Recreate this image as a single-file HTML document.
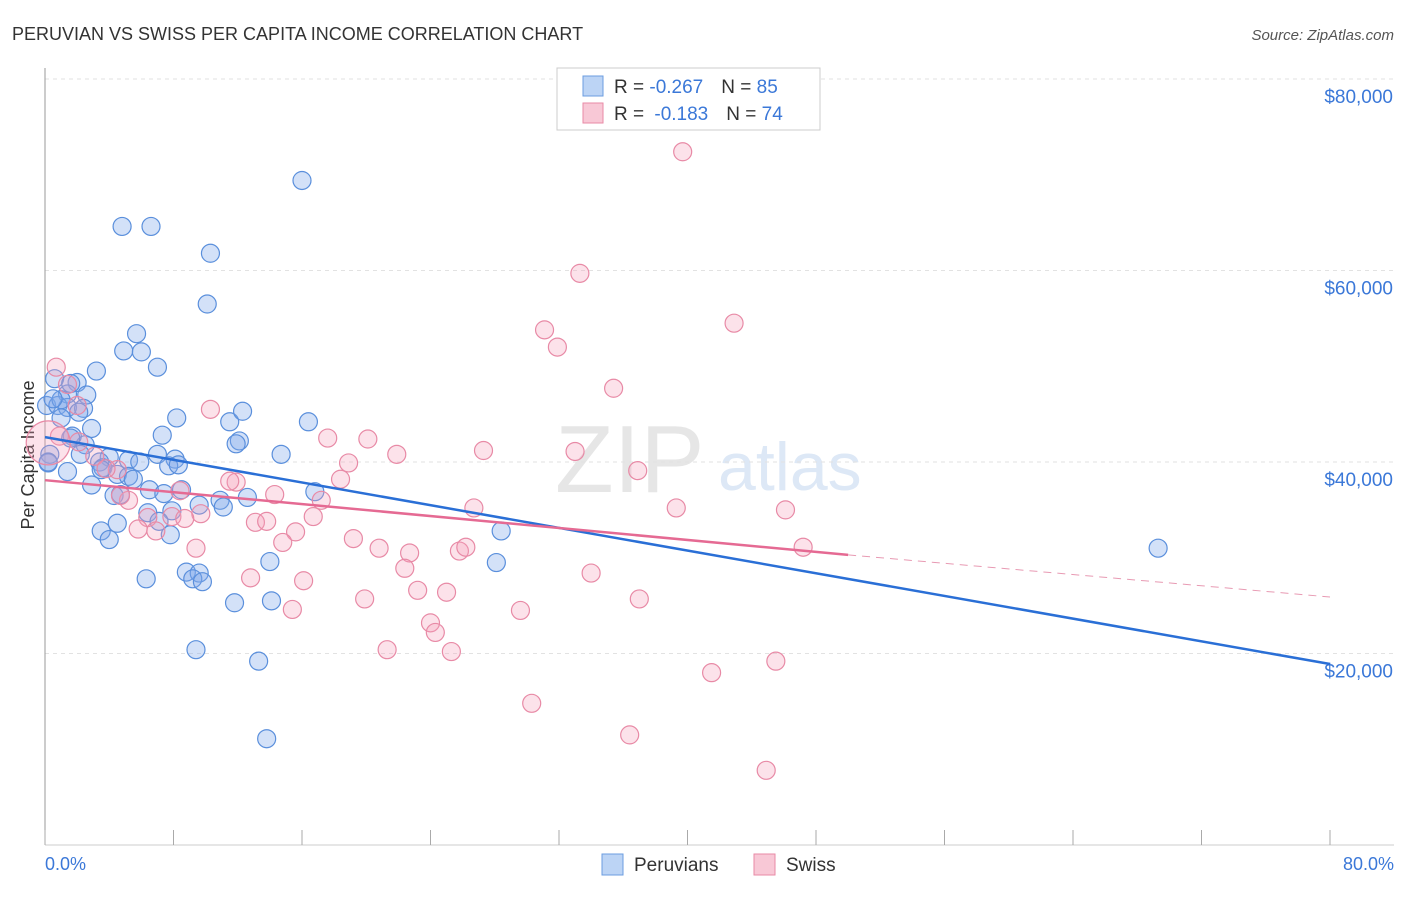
<!DOCTYPE html>
<html><head><meta charset="utf-8"><style>
body{margin:0;background:#fff;font-family:"Liberation Sans",sans-serif}
svg text{font-family:"Liberation Sans",sans-serif}
</style></head><body>
<svg width="1406" height="892">
<text x="12" y="40" font-size="18" fill="#333">PERUVIAN VS SWISS PER CAPITA INCOME CORRELATION CHART</text>
<text x="1394" y="40" font-size="15" fill="#555" font-style="italic" text-anchor="end">Source: ZipAtlas.com</text>
<text x="555" y="492" font-size="96" fill="#e6e6e6" font-family="Liberation Serif">ZIP</text>
<text x="718" y="490" font-size="68" fill="#dde8f6">atlas</text>
<g id="grid"></g>
<line x1="45" y1="68" x2="45" y2="845" stroke="#999"/>
<line x1="45" y1="845" x2="1394" y2="845" stroke="#ccc"/>
<g id="ticks"></g>
<text transform="translate(34,455) rotate(-90)" font-size="18" fill="#333" text-anchor="middle">Per Capita Income</text>
<text x="45" y="870" font-size="18" fill="#3b78d8">0.0%</text>
<text x="1394" y="870" font-size="18" fill="#3b78d8" text-anchor="end">80.0%</text>
<g id="pts"></g>
<g id="lines"></g>
<g>
<rect x="557" y="68" width="263" height="62" fill="#fff" stroke="#ccc"/>
<rect x="583" y="76" width="20" height="20" fill="#bcd4f5" stroke="#6b9de0"/>
<rect x="583" y="103" width="20" height="20" fill="#f8c8d6" stroke="#e88aa6"/>
<text x="614" y="93" font-size="19" fill="#333">R = <tspan fill="#3b78d8">-0.267</tspan><tspan dx="18">N = </tspan><tspan fill="#3b78d8">85</tspan></text>
<text x="614" y="120" font-size="19" fill="#333">R = <tspan fill="#3b78d8" dx="5">-0.183</tspan><tspan dx="18">N = </tspan><tspan fill="#3b78d8">74</tspan></text>
</g>
<g>
<rect x="602" y="854" width="21" height="21" fill="#bcd4f5" stroke="#6b9de0"/>
<text x="634" y="871" font-size="19" fill="#333">Peruvians</text>
<rect x="754" y="854" width="21" height="21" fill="#f8c8d6" stroke="#e88aa6"/>
<text x="786" y="871" font-size="19" fill="#333">Swiss</text>
</g>
</svg>
<script>
const NS="http://www.w3.org/2000/svg";
const yTicks=[20000,40000,60000,80000];
const yTickLabels=["$20,000","$40,000","$60,000","$80,000"];
const xTicks=[0,8,16,24,32,40,48,56,64,72,80];
const peruX=[16.0,4.8,6.6,10.3,10.1,5.7,4.9,6.0,7.0,3.2,0.6,2.0,1.4,2.6,0.1,0.8,1.4,2.4,1.0,8.2,11.5,12.3,16.4,2.9,7.3,12.1,11.9,1.7,2.5,0.3,2.2,4.0,3.4,5.2,5.9,7.0,8.1,14.7,0.2,3.6,7.7,8.3,4.5,5.2,5.5,2.9,6.5,8.5,7.4,4.3,10.9,4.7,16.8,9.6,11.1,6.4,7.9,7.1,4.5,3.5,7.8,4.0,28.4,14.0,28.1,8.8,9.6,9.2,9.8,6.3,11.8,14.1,9.4,13.3,13.8,69.3,3.5,1.4,0.2,1.0,2.1,1.6,0.5,1.6,12.6];
const peruY=[69.4,64.6,64.6,61.8,56.5,53.4,51.6,51.5,49.9,49.5,48.7,48.3,47.1,47.0,45.9,45.9,45.7,45.6,44.6,44.6,44.2,45.3,44.2,43.5,42.8,42.2,41.9,42.7,41.8,40.8,40.8,40.5,40.0,40.2,40.0,40.8,40.3,40.8,39.9,39.4,39.6,39.7,38.7,38.5,38.2,37.6,37.1,37.1,36.7,36.5,36.0,36.6,36.9,35.5,35.3,34.7,34.9,33.8,33.6,32.8,32.4,31.9,32.8,29.6,29.5,28.5,28.4,27.8,27.5,27.8,25.3,25.5,20.4,19.2,11.1,31.0,39.2,39.0,40.0,46.5,45.2,48.2,46.6,42.5,36.3];
const swissX=[39.7,33.3,42.9,31.1,31.9,0.7,35.4,1.4,2.0,10.3,0.9,17.6,20.1,27.3,21.9,33.0,18.9,2.1,3.1,4.5,11.9,11.5,36.9,18.4,3.8,8.4,14.3,5.2,4.7,17.2,26.7,46.1,39.3,9.7,7.9,6.4,8.7,16.7,13.1,13.8,5.8,6.9,15.6,19.2,20.8,22.7,47.2,25.8,26.2,9.4,14.8,22.4,34.0,12.8,16.1,23.2,25.0,19.9,37.0,15.4,29.6,24.0,24.3,21.3,25.3,45.5,41.5,30.3,36.4,44.9,0.2];
const swissY=[72.4,59.7,54.5,53.8,52.0,49.9,47.7,48.1,45.9,45.5,42.7,42.5,42.4,41.2,40.8,41.1,39.9,42.1,40.6,39.2,37.9,38.0,39.1,38.2,39.3,37.0,36.6,36.0,36.5,36.0,35.2,35.0,35.2,34.6,34.3,34.2,34.1,34.3,33.7,33.8,33.0,32.8,32.7,32.0,31.0,30.5,31.1,30.7,31.1,31.0,31.6,28.9,28.4,27.9,27.6,26.6,26.4,25.7,25.7,24.6,24.5,23.2,22.2,20.4,20.2,19.2,18.0,14.8,11.5,7.8,42.0];
const L=45,R=1330,T=79,B=845;
const xs=v=>L+(v/80)*(R-L);
const ys=v=>B-(v/80000)*(B-T);
const yk=v=>ys(v*1000);
function mk(tag,attrs,parent){const e=document.createElementNS(NS,tag);for(const k in attrs)e.setAttribute(k,attrs[k]);document.getElementById(parent).appendChild(e);return e;}
yTicks.forEach((t,i)=>{
 const g=mk("line",{x1:45,x2:1394,y1:ys(t),y2:ys(t),stroke:"#e2e2e2","stroke-dasharray":"4,4"},"grid");
 
 
 const tx=mk("text",{x:1393,y:ys(t)+24,"font-size":19,fill:"#3b78d8","text-anchor":"end"},"grid");
 tx.textContent=yTickLabels[i];
 
 
});
mk("line",{x1:45,x2:1394,y1:T,y2:T,stroke:"#e2e2e2","stroke-dasharray":"4,4"},"grid");
xTicks.forEach(t=>{
 const l=mk("line",{x1:xs(t),x2:xs(t),y1:830,y2:845,stroke:"#aaa"},"ticks");
 
 
});
peruX.forEach((x,i)=>{
 const c=mk("circle",{cx:xs(x),cy:yk(peruY[i]),r:(i>=peruX.length-4&&i<peruX.length-1)?9:9,fill:"rgba(130,170,235,0.35)",stroke:"#5a8fdc","stroke-width":1.2},"pts");
 
 
});
swissX.forEach((x,i)=>{
 const c=mk("circle",{cx:xs(x),cy:yk(swissY[i]),r:i===swissX.length-1?22:9,fill:"rgba(245,160,185,0.3)",stroke:"#e88aa6","stroke-width":1.2},"pts");
 
 
});
const blueLine=[[0,42.6],[80,18.9]];
const pinkLine=[[0,38.1],[50,30.3],[80,25.9]];
let bl=mk("line",{x1:xs(blueLine[0][0]),y1:yk(blueLine[0][1]),x2:xs(blueLine[1][0]),y2:yk(blueLine[1][1]),stroke:"#2a6fd6","stroke-width":2.5},"lines");


let pl=mk("line",{x1:xs(pinkLine[0][0]),y1:yk(pinkLine[0][1]),x2:xs(pinkLine[1][0]),y2:yk(pinkLine[1][1]),stroke:"#e56a93","stroke-width":2.5},"lines");


let pd=mk("line",{x1:xs(pinkLine[1][0]),y1:yk(pinkLine[1][1]),x2:xs(pinkLine[2][0]),y2:yk(pinkLine[2][1]),stroke:"#e89ab3","stroke-width":1,"stroke-dasharray":"8,6"},"lines");


</script>
</body></html>
